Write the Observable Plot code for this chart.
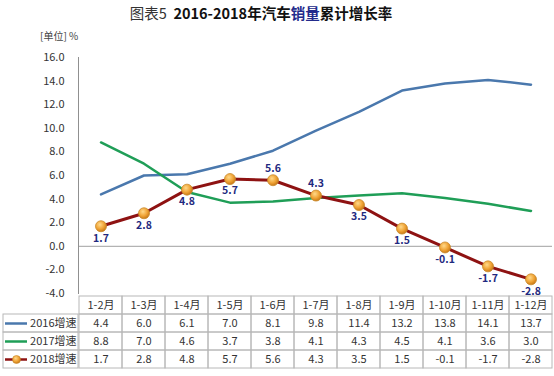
<!DOCTYPE html>
<html><head><meta charset="utf-8">
<script src="https://cdn.jsdelivr.net/npm/d3@7"></script>
<script src="https://cdn.jsdelivr.net/npm/@observablehq/plot@0.6"></script>
<style>
body{margin:0;background:#fff;font-family:"Noto Sans CJK SC","Liberation Sans",sans-serif;}
#wrap{position:relative;width:554px;height:376px;overflow:hidden;background:#fff;}
#title{position:absolute;left:0;top:2px;width:522px;text-align:center;font-size:14.5px;color:#111;white-space:nowrap;}
#title .n{font-weight:normal;color:#333;}
#title b{font-weight:bold;}
#title .hl{color:#232b8c;}
#unit{position:absolute;left:40px;top:28px;font-size:10px;color:#444;}
.abs{position:absolute;}
svg{overflow:visible;}
</style>
</head><body>
<div id="wrap">
  <div id="title"><span class="n">图表5</span>&nbsp;&nbsp;<b>2016-2018年汽车<span class="hl">销量</span>累计增长率</b></div>
  <div id="unit">[单位] %</div>
  <div id="chart" class="abs" style="left:0;top:45px;"></div>
  <div id="tableLeft" class="abs" style="left:0;top:293.5px;"></div>
  <div id="tableRight" class="abs" style="left:0;top:293.5px;"></div>
</div>
<script>
const categories = ["1-2月","1-3月","1-4月","1-5月","1-6月","1-7月","1-8月","1-9月","1-10月","1-11月","1-12月"];
const seriesNames = ["2016增速","2017增速","2018增速"];
const s2016 = [4.4, 6.0, 6.1, 7.0, 8.1, 9.8, 11.4, 13.2, 13.8, 14.1, 13.7];
const s2017 = [8.8, 7.0, 4.6, 3.7, 3.8, 4.1, 4.3, 4.5, 4.1, 3.6, 3.0];
const s2018 = [1.7, 2.8, 4.8, 5.7, 5.6, 4.3, 3.5, 1.5, -0.1, -1.7, -2.8];
const yTicks = [-4, -2, 0, 2, 4, 6, 8, 10, 12, 14, 16];
const labelAbove = ["1-6月", "1-7月"];
const colors = ["#4a78ad", "#1f9e57", "#8e1212"];
const font = '"Noto Sans CJK SC","Liberation Sans",sans-serif';

const toRows = (vals) => categories.map((c, i) => ({cat: c, v: vals[i]}));
const d2016 = toRows(s2016), d2017 = toRows(s2017), d2018 = toRows(s2018);

const chart = Plot.plot({
  width: 554, height: 249,
  marginTop: 12, marginBottom: 1, marginLeft: 78, marginRight: 2,
  style: {fontSize: "11px", fontFamily: font, color: "#333", background: "transparent", overflow: "visible"},
  x: {type: "band", domain: categories, padding: 0, axis: null},
  y: {domain: [-4, 16], ticks: yTicks, tickFormat: d => d.toFixed(1), tickSize: 0, tickPadding: 14, label: null},
  marks: [
    Plot.ruleY([0], {stroke: "#a0a0a0", strokeWidth: 1}),
    Plot.frame({anchor: "left", stroke: "#909090"}),
    Plot.lineY(d2016, {x: "cat", y: "v", stroke: colors[0], strokeWidth: 2.5}),
    Plot.lineY(d2017, {x: "cat", y: "v", stroke: colors[1], strokeWidth: 2.5}),
    Plot.lineY(d2018, {x: "cat", y: "v", stroke: colors[2], strokeWidth: 3}),
    Plot.dot(d2018, {x: "cat", y: "v", r: 5.5, fill: "url(#ball)", stroke: "#c98a2c", strokeWidth: 0.8}),
    Plot.text(d2018, {filter: d => !labelAbove.includes(d.cat), x: "cat", y: "v", text: d => d.v.toFixed(1), dy: 12, fill: "#1f2a80", fontWeight: "bold", fontSize: 10.5}),
    Plot.text(d2018, {filter: d => labelAbove.includes(d.cat), x: "cat", y: "v", text: d => d.v.toFixed(1), dy: -12, fill: "#1f2a80", fontWeight: "bold", fontSize: 10.5})
  ]
});
const defs = d3.select(chart).insert("defs", ":first-child");
const g = defs.append("radialGradient").attr("id", "ball").attr("cx", "40%").attr("cy", "35%").attr("r", "65%");
g.append("stop").attr("offset", "0%").attr("stop-color", "#ffd98a");
g.append("stop").attr("offset", "60%").attr("stop-color", "#f0a436");
g.append("stop").attr("offset", "100%").attr("stop-color", "#c97a18");
document.getElementById("chart").append(chart);

const rows = ["header", ...seriesNames];
const seriesVals = [s2016, s2017, s2018];
const tableCells = categories.flatMap((c, i) => [
  {row: "header", cat: c, text: c},
  ...seriesNames.map((s, k) => ({row: s, cat: c, text: seriesVals[k][i].toFixed(1)}))
]);

const tableRight = Plot.plot({
  width: 554, height: 75,
  marginTop: 0.5, marginBottom: 0.5, marginLeft: 78, marginRight: 2,
  style: {fontSize: "11px", fontFamily: font, color: "#333", background: "transparent"},
  x: {type: "band", domain: categories, padding: 0, axis: null},
  y: {type: "band", domain: rows, padding: 0, axis: null},
  marks: [
    Plot.cell(tableCells, {x: "cat", y: "row", fill: "none", stroke: "#b8b8b8"}),
    Plot.text(tableCells, {x: "cat", y: "row", text: "text", fill: "#333"})
  ]
});
document.getElementById("tableRight").append(tableRight);

const tableLeft = Plot.plot({
  width: 79, height: 75,
  marginTop: 0.5, marginBottom: 0.5, marginLeft: 3, marginRight: 1,
  style: {fontSize: "11px", fontFamily: font, color: "#333", background: "transparent"},
  y: {type: "band", domain: rows, padding: 0, axis: null},
  color: {domain: seriesNames, range: colors},
  marks: [
    Plot.cell(seriesNames, {y: d => d, fill: "none", stroke: "#b8b8b8"}),
    Plot.ruleY(seriesNames, {y: d => d, stroke: d => d, strokeWidth: 2.5, insetLeft: 2, insetRight: 51}),
    Plot.dot([seriesNames[2]], {y: d => d, frameAnchor: "left", dx: 13, r: 4, fill: "url(#ball2)", stroke: "#c98a2c", strokeWidth: 0.6}),
    Plot.text(seriesNames, {y: d => d, text: d => d, frameAnchor: "right", textAnchor: "end", dx: -2, fill: "#333"})
  ]
});
const defs2 = d3.select(tableLeft).insert("defs", ":first-child");
const g2 = defs2.append("radialGradient").attr("id", "ball2").attr("cx", "40%").attr("cy", "35%").attr("r", "65%");
g2.append("stop").attr("offset", "0%").attr("stop-color", "#ffd98a");
g2.append("stop").attr("offset", "60%").attr("stop-color", "#f0a436");
g2.append("stop").attr("offset", "100%").attr("stop-color", "#c97a18");
document.getElementById("tableLeft").append(tableLeft);
</script>
</body></html>
